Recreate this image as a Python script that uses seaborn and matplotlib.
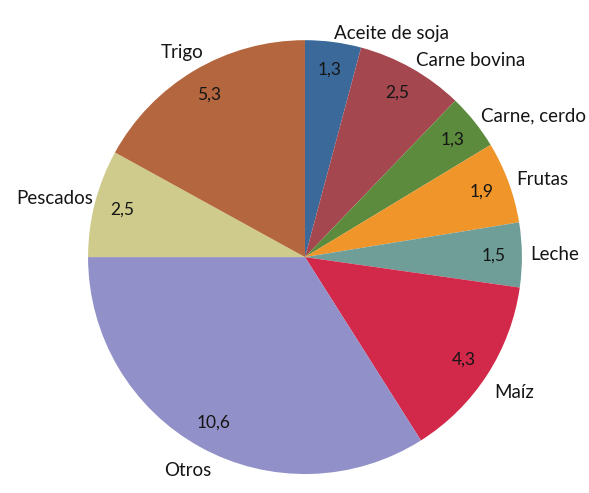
import numpy as np
import matplotlib
matplotlib.use("Agg")
import matplotlib.pyplot as plt
import seaborn as sns

categories = ["Aceite de soja", "Carne bovina", "Carne, cerdo", "Frutas", "Leche",
              "Maíz", "Otros", "Pescados", "Trigo"]
values = [1.3, 2.5, 1.3, 1.9, 1.5, 4.3, 10.6, 2.5, 5.3]
colors = ["#3B6A9A", "#A5474F", "#5C8B3D", "#F0952A", "#6F9E99",
          "#D2284A", "#9190C8", "#CFCB8C", "#B4663F"]

sns.set_theme(style="white")
plt.rcParams['font.family'] = ['Lato', 'DejaVu Sans']

fig = plt.figure(figsize=(5.89, 4.93), dpi=100)
ax = fig.add_axes([0.1494, 0.0385, 0.7368, 0.880])

total = sum(values)
wedges, texts, autotexts = ax.pie(
    values,
    labels=categories,
    colors=colors,
    startangle=90,
    counterclock=False,
    labeldistance=1.0,
    pctdistance=0.87,
    autopct=lambda p: f"{p * total / 100:.1f}".replace('.', ','),
    wedgeprops={'linewidth': 0},
    textprops={'fontsize': 13.5, 'color': '#151515'},
)
for t in autotexts:
    t.set_fontsize(12.5)
ax.set_xlim(-1, 1)
ax.set_ylim(-1, 1)

# Excel-like label placement around the pie
fig.canvas.draw()
renderer = fig.canvas.get_renderer()
px = 2 / ax.get_window_extent().width
for w, t in zip(wedges, texts):
    ang = np.deg2rad((w.theta1 + w.theta2) / 2)
    c, s = np.cos(ang), np.sin(ang)
    bb = t.get_window_extent(renderer)
    bw, bh = bb.width * px, bb.height * px
    dy = s * bh * (1.4 if s < 0 else 1.0)
    t.set_verticalalignment('center')
    if c > 0:
        r = 1.04
        t.set_horizontalalignment('left')
        t.set_position((r * c, r * s + (dy if s < 0 else 0)))
    else:
        r = 1.015
        t.set_horizontalalignment('center')
        t.set_position((r * c + c * bw / 2, r * s + dy))

fig.savefig("out.png", dpi=100)
